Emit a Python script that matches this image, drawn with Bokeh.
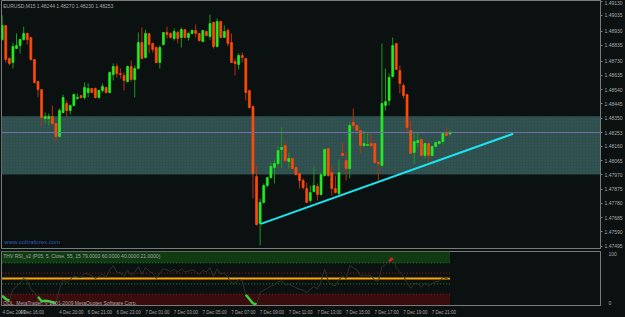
from bokeh.plotting import figure
from bokeh.layouts import column
from bokeh.models import (Range1d, FixedTicker, BoxAnnotation, Span, Label,
                          ColumnDataSource, PrintfTickFormatter)
from bokeh.embed import file_html
from bokeh.resources import INLINE

symbol = "EURUSD,M15"

opens = [1.48874, 1.48968, 1.48748, 1.48721, 1.48814, 1.48834, 1.48874, 1.48915, 1.48888, 1.48741,
         1.48594, 1.48540, 1.48347, 1.48347, 1.48360, 1.48313, 1.48227, 1.48387, 1.48447, 1.48400,
         1.48434, 1.48480, 1.48500, 1.48487, 1.48520, 1.48547, 1.48547, 1.48487, 1.48534, 1.48554,
         1.48520, 1.48641, 1.48694, 1.48647, 1.48634, 1.48594, 1.48694, 1.48607, 1.48681, 1.48854,
         1.48754, 1.48915, 1.48848, 1.48821, 1.48721, 1.48841, 1.48921, 1.48915, 1.48881, 1.48921,
         1.48888, 1.48941, 1.48888, 1.48915, 1.48935, 1.48915, 1.48861, 1.48928, 1.48895, 1.48988,
         1.48828, 1.48995, 1.48888, 1.48935, 1.48854, 1.48728, 1.48708, 1.48768, 1.48748, 1.48534,
         1.48427, 1.47959, 1.47645, 1.47786, 1.47899, 1.47952, 1.48019, 1.48046, 1.48140, 1.48166,
         1.48060, 1.48080, 1.48019, 1.47979, 1.47933, 1.47879, 1.47799, 1.47859, 1.47893, 1.47839,
         1.47966, 1.48146, 1.47986, 1.47879, 1.47846, 1.48113, 1.48066, 1.48013, 1.48320, 1.48300,
         1.48267, 1.48166, 1.48166, 1.48180, 1.48180, 1.48053, 1.48033, 1.48434, 1.48467, 1.48627,
         1.48848, 1.48667, 1.48567, 1.48507, 1.48267, 1.48120, 1.48186, 1.48206, 1.48100, 1.48180,
         1.48100, 1.48160, 1.48180, 1.48193, 1.48247, 1.48244]

highs = [1.49035, 1.48968, 1.48754, 1.48854, 1.48915, 1.48881, 1.48961, 1.48921, 1.48888, 1.48741,
         1.48601, 1.48540, 1.48387, 1.48380, 1.48434, 1.48320, 1.48414, 1.48507, 1.48467, 1.48440,
         1.48514, 1.48514, 1.48500, 1.48587, 1.48581, 1.48547, 1.48554, 1.48540, 1.48581, 1.48561,
         1.48661, 1.48714, 1.48714, 1.48681, 1.48654, 1.48701, 1.48734, 1.48701, 1.48921, 1.48955,
         1.48941, 1.48915, 1.48854, 1.48828, 1.48834, 1.48921, 1.48961, 1.48921, 1.48948, 1.48935,
         1.48955, 1.48941, 1.48921, 1.48941, 1.48975, 1.48915, 1.48935, 1.48935, 1.49041, 1.48995,
         1.49015, 1.49001, 1.48968, 1.48948, 1.48915, 1.48748, 1.48781, 1.48788, 1.48748, 1.48534,
         1.48434, 1.48026, 1.47812, 1.47913, 1.47959, 1.48053, 1.48073, 1.48166, 1.48287, 1.48186,
         1.48120, 1.48086, 1.48026, 1.47986, 1.47946, 1.47919, 1.47899, 1.48026, 1.47913, 1.47986,
         1.48146, 1.48153, 1.48033, 1.47966, 1.48073, 1.48186, 1.48120, 1.48320, 1.48414, 1.48307,
         1.48267, 1.48267, 1.48247, 1.48247, 1.48186, 1.48066, 1.48848, 1.48681, 1.48647, 1.48888,
         1.48848, 1.48701, 1.48581, 1.48507, 1.48333, 1.48253, 1.48253, 1.48213, 1.48186, 1.48180,
         1.48166, 1.48193, 1.48200, 1.48253, 1.48287, 1.48270]

lows = [1.48868, 1.48721, 1.48701, 1.48681, 1.48814, 1.48781, 1.48868, 1.48841, 1.48734, 1.48581,
        1.48487, 1.48300, 1.48313, 1.48300, 1.48307, 1.48193, 1.48220, 1.48380, 1.48360, 1.48374,
        1.48427, 1.48474, 1.48480, 1.48474, 1.48487, 1.48514, 1.48480, 1.48480, 1.48520, 1.48514,
        1.48514, 1.48601, 1.48621, 1.48614, 1.48534, 1.48587, 1.48594, 1.48487, 1.48681, 1.48741,
        1.48748, 1.48781, 1.48788, 1.48714, 1.48681, 1.48834, 1.48881, 1.48881, 1.48868, 1.48848,
        1.48821, 1.48881, 1.48868, 1.48908, 1.48888, 1.48861, 1.48861, 1.48895, 1.48874, 1.48814,
        1.48821, 1.48881, 1.48888, 1.48828, 1.48721, 1.48634, 1.48674, 1.48721, 1.48467, 1.48414,
        1.47812, 1.47632, 1.47499, 1.47779, 1.47886, 1.47946, 1.47913, 1.48033, 1.48019, 1.48053,
        1.48013, 1.48006, 1.47966, 1.47879, 1.47872, 1.47786, 1.47786, 1.47852, 1.47799, 1.47832,
        1.47959, 1.47959, 1.47832, 1.47846, 1.47832, 1.48100, 1.47933, 1.47946, 1.48280, 1.48260,
        1.48113, 1.48153, 1.48166, 1.48153, 1.48046, 1.47933, 1.48026, 1.48400, 1.48434, 1.48621,
        1.48674, 1.48514, 1.48480, 1.48247, 1.48113, 1.48046, 1.48153, 1.48093, 1.48080, 1.48053,
        1.48093, 1.48153, 1.48173, 1.48173, 1.48227, 1.48230]

closes = [1.48968, 1.48741, 1.48714, 1.48828, 1.48834, 1.48874, 1.48915, 1.48874, 1.48741, 1.48587,
          1.48540, 1.48353, 1.48360, 1.48360, 1.48313, 1.48227, 1.48400, 1.48487, 1.48400, 1.48434,
          1.48507, 1.48487, 1.48487, 1.48554, 1.48547, 1.48520, 1.48487, 1.48534, 1.48561, 1.48520,
          1.48654, 1.48694, 1.48647, 1.48641, 1.48601, 1.48694, 1.48607, 1.48681, 1.48854, 1.48748,
          1.48915, 1.48841, 1.48808, 1.48721, 1.48821, 1.48921, 1.48908, 1.48888, 1.48928, 1.48881,
          1.48941, 1.48888, 1.48915, 1.48935, 1.48915, 1.48868, 1.48935, 1.48901, 1.48981, 1.48828,
          1.48995, 1.48888, 1.48928, 1.48848, 1.48721, 1.48714, 1.48768, 1.48754, 1.48520, 1.48420,
          1.47979, 1.47639, 1.47786, 1.47899, 1.47952, 1.48026, 1.48046, 1.48133, 1.48153, 1.48066,
          1.48080, 1.48013, 1.47972, 1.47933, 1.47886, 1.47786, 1.47852, 1.47899, 1.47839, 1.47972,
          1.48140, 1.47966, 1.47879, 1.47852, 1.47986, 1.48100, 1.48013, 1.48300, 1.48300, 1.48267,
          1.48166, 1.48180, 1.48173, 1.48166, 1.48053, 1.48046, 1.48447, 1.48460, 1.48621, 1.48834,
          1.48674, 1.48581, 1.48500, 1.48287, 1.48113, 1.48193, 1.48200, 1.48100, 1.48180, 1.48100,
          1.48160, 1.48186, 1.48193, 1.48247, 1.48233, 1.48253]

rsi = [18, 12, 9, 30, 35, 42, 50, 45, 30, 24,
       16, 8, 9, 8, 6, 4, 30, 48, 42, 48,
       55, 53, 52, 60, 58, 55, 50, 54, 58, 52,
       66, 74, 62, 60, 54, 66, 56, 62, 72, 58,
       70, 64, 60, 50, 60, 68, 66, 63, 67, 62,
       68, 62, 64, 66, 63, 58, 65, 62, 70, 54,
       68, 58, 61, 52, 42, 41, 48, 46, 20, 12,
       4, 2, 24, 28, 32, 36, 38, 44, 46, 38,
       40, 36, 33, 30, 28, 24, 30, 35, 31, 44,
       68, 45, 38, 36, 48, 55, 50, 74, 70, 66,
       55, 56, 56, 55, 46, 45, 72, 76, 82, 88,
       70, 62, 55, 42, 32, 40, 41, 34, 42, 36,
       41, 44, 45, 52, 50, 53]

rsi_levels = [79, 60, 40, 21]
rsi_mid = 50

zone_top = 1.48362
zone_bottom = 1.47973
bid = 1.48253

trend_x = [72.2, 142.6]
trend_y = [1.47643, 1.48245]

price_ticks = [1.49130, 1.49035, 1.48930, 1.48835, 1.48730, 1.48635, 1.48540, 1.48445,
               1.48350, 1.48160, 1.48065, 1.47970, 1.47875, 1.47780, 1.47685, 1.47590, 1.47495]

time_ticks = [0, 5, 16, 24, 32, 40, 48, 56, 64, 72, 80, 88, 96, 104, 112, 120]
time_labels = ["4 Dec 2009", "4 Dec 16:00", "4 Dec 20:00", "6 Dec 21:00", "6 Dec 23:00",
               "7 Dec 01:00", "7 Dec 03:00", "7 Dec 05:00", "7 Dec 07:00", "7 Dec 09:00",
               "7 Dec 11:00", "7 Dec 13:00", "7 Dec 15:00", "7 Dec 17:00", "7 Dec 19:00",
               "7 Dec 21:00"]

BG = "#0b1010"
GRID = "#7a7a7a"
TXT = "#a8a8a8"
FONT = "Liberation Sans"
FS = "5px"

n = len(closes)
idx = list(range(n))
bull = [c >= o for o, c in zip(opens, closes)]
src = ColumnDataSource(dict(
    x=idx, o=opens, h=highs, l=lows, c=closes,
    top=[max(o, c) for o, c in zip(opens, closes)],
    bot=[min(o, c) for o, c in zip(opens, closes)],
    body=["#22ee22" if b else "#ff4a0a" for b in bull],
    wick=["#1c9a1c" if b else "#b83208" for b in bull],
))

xr = Range1d(-0.19, 167.0)

p1 = figure(width=625, height=249, output_backend="svg", toolbar_location=None,
            x_range=xr, y_range=Range1d(1.47472, 1.49135),
            x_axis_location=None, y_axis_location="right",
            background_fill_color=BG, border_fill_color=BG,
            min_border_left=1, min_border_right=22, min_border_top=0, min_border_bottom=0,
            outline_line_color=GRID)
p1.grid.visible = False
ya = p1.yaxis[0]
ya.ticker = FixedTicker(ticks=sorted(price_ticks + [bid]))
ya.formatter = PrintfTickFormatter(format="%.5f")
ya.major_label_text_font = FONT
ya.major_label_text_font_size = FS
ya.major_label_text_color = TXT
ya.axis_line_color = GRID
ya.major_tick_line_color = GRID
ya.major_tick_out = 2
ya.major_tick_in = 0
ya.minor_tick_line_color = None
ya.major_label_standoff = 2

p1.add_layout(BoxAnnotation(bottom=zone_bottom, top=zone_top, fill_color="#2f4f4f", fill_alpha=1.0,
                            line_color=None, level="underlay",
                            hatch_pattern="dot", hatch_color="#4a6868", hatch_alpha=0.35,
                            hatch_scale=3))
p1.add_layout(Span(location=bid, dimension="width", line_color="#7070a8", line_width=1))

p1.segment(x0="x", y0="l", x1="x", y1="h", line_color="wick", line_width=1, source=src)
p1.vbar(x="x", width=0.55, top="top", bottom="bot", fill_color="body", line_color="body",
        line_width=0.7, source=src)

p1.line(trend_x, trend_y, line_color="#19e6f0", line_width=2)

p1.add_layout(Label(x=0.3, y=highs[0] + 0.00065, text=f"{symbol}  {opens[-1]:.5f} {highs[-1]:.5f} {lows[-1]:.5f} {closes[-1]:.5f}",
                    text_font=FONT, text_font_size=FS, text_color=TXT, text_baseline="middle"))
p1.add_layout(Label(x=0.6, y=1.47522, text="www.cobraforex.com", text_font=FONT,
                    text_font_size="6px", text_color="#3657b0", text_baseline="middle"))

# indicator panel
p2 = figure(width=625, height=68, output_backend="svg", toolbar_location=None,
            x_range=xr, y_range=Range1d(0, 100), y_axis_location="right",
            background_fill_color=BG, border_fill_color=BG,
            min_border_left=1, min_border_right=22, min_border_top=2, min_border_bottom=0,
            outline_line_color=GRID)
p2.grid.visible = False
hi, up, dn, lo = rsi_levels
p2.varea(x=idx, y1=[hi] * n, y2=[100] * n, fill_color="#0f3a12")
p2.varea(x=idx, y1=[0] * n, y2=[lo] * n, fill_color="#3a0c0c")
p2.line(idx, [hi] * n, line_color="#1f9a1f", line_dash="1 2", line_width=1)
p2.line(idx, [up] * n, line_color="#9a1f1f", line_dash="1 2", line_width=1)
p2.line(idx, [dn] * n, line_color="#1f9a1f", line_dash="1 2", line_width=1)
p2.line(idx, [lo] * n, line_color="#9a1f1f", line_dash="1 2", line_width=1)
p2.line(idx, [rsi_mid] * n, line_color="#ffa500", line_width=2)
p2.line(idx, rsi, line_color="#2c352c", line_width=1)
nan = float("nan")
p2.line(idx, [v if v < lo else nan for v in rsi], line_color="#3ccc3c", line_width=2.5)
p2.line(idx, [v if v > hi else nan for v in rsi], line_color="#e02020", line_width=2.5)

p2.add_layout(Label(x=0.3, y=92, text="THV RSI_v2  (P05, 5, Close, 55, 15  79.0000 60.0000 40.0000 21.0000)",
                    text_font=FONT, text_font_size=FS, text_color=TXT, text_baseline="middle"))
p2.add_layout(Label(x=0.3, y=5, text="ODL, MetaTrader, © 2001-2009 MetaQuotes Software Corp.",
                    text_font=FONT, text_font_size=FS, text_color=TXT, text_baseline="middle"))

ya2 = p2.yaxis[0]
ya2.ticker = FixedTicker(ticks=[95, 5])
ya2.major_label_overrides = {95: "100", 5: "0"}
ya2.major_label_text_font = FONT
ya2.major_label_text_font_size = FS
ya2.major_label_text_color = TXT
ya2.axis_line_color = GRID
ya2.major_tick_line_color = None
ya2.minor_tick_line_color = None
ya2.major_label_standoff = 2

# MetaTrader writes each time label to the right of its bar; Bokeh centres
# tick labels, so the label anchor is moved by half a label width.
label_shift = 3.3
shifted = [t + label_shift for t in time_ticks]
xa = p2.xaxis[0]
xa.ticker = FixedTicker(ticks=shifted)
xa.major_label_overrides = {s: lab for s, lab in zip(shifted, time_labels)}
xa.major_label_text_font = FONT
xa.major_label_text_font_size = "4.5px"
xa.major_label_text_color = TXT
xa.axis_line_color = GRID
xa.major_tick_line_color = None
xa.major_tick_out = 2
xa.major_tick_in = 0
xa.minor_tick_line_color = None
xa.major_label_standoff = 2

layout = column(p1, p2, spacing=0, styles={"background-color": BG})
open("out.html", "w").write(file_html(layout, INLINE))
